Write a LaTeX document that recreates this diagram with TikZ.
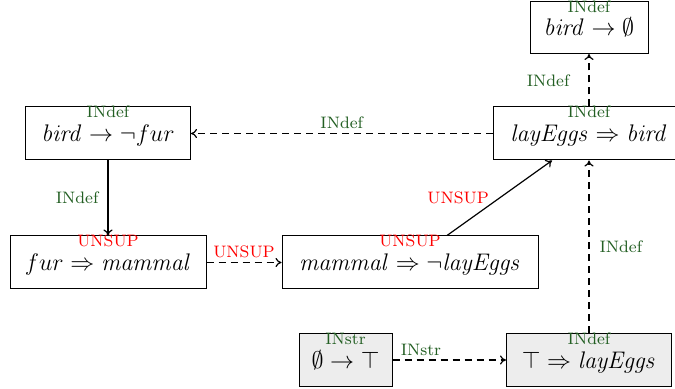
\documentclass[tikz,border=0pt]{standalone}
\usepackage{amssymb}
\usetikzlibrary{arrows.meta}
\definecolor{labgreen}{RGB}{35,95,35}
\definecolor{labred}{RGB}{255,0,0}
\begin{document}
\begin{tikzpicture}[x=0.5pt,y=-0.5pt,
  box/.style={draw, line width=0.5pt, minimum height=26.5pt, inner xsep=1.5pt, text height=11.5pt, text depth=3pt, font=\fontsize{13}{15}\selectfont},
  grey/.style={fill=black!7},
  labfont/.style={font=\fontsize{8.3}{9}\selectfont},
  ndlab/.style={labfont, inner sep=0pt, anchor=center, yshift=-2.8pt},
  gl/.style={text=labgreen},
  rl/.style={text=labred},
  edge/.style={line width=0.6pt, -{To[length=3pt,width=4.5pt]}},
  dedge/.style={edge, dash pattern=on 3.5pt off 2.5pt},
  elab/.style={labfont, inner sep=2pt}
]
\useasboundingbox (0,0) rectangle (675,389);
\node[box, minimum width=59pt, minimum height=26pt, label={[ndlab,gl]north:INdef}] (b0) at (589,27.5) {$\mathit{bird}\rightarrow\emptyset$};
\node[box, minimum width=96pt, label={[ndlab,gl]north:INdef}] (lay) at (589,133.5) {$\mathit{layEggs}\Rightarrow\mathit{bird}$};
\node[box, minimum width=82.5pt, label={[ndlab,gl]north:INdef}] (bf) at (108,133.5) {$\mathit{bird}\rightarrow\neg fur$};
\node[box, minimum width=98pt, label={[ndlab,rl]north:UNSUP}] (fm) at (108,262.5) {$fur\Rightarrow\mathit{mammal}$};
\node[box, minimum width=128pt, label={[ndlab,rl]north:UNSUP}] (mm) at (410,262.5) {$\mathit{mammal}\Rightarrow\neg\mathit{layEggs}$};
\node[box, grey, minimum width=46.5pt, label={[ndlab,gl]north:INstr}] (et) at (345.5,360) {$\emptyset\rightarrow\top$};
\node[box, grey, minimum width=82.5pt, label={[ndlab,gl]north:INdef}] (tl) at (589,360) {$\top\Rightarrow\mathit{layEggs}$};

\draw[dedge] (lay.north) -- (b0.south) node[midway, left, elab, xshift=-7.5pt, text=labgreen] {INdef};
\draw[dedge] (lay.west) -- (bf.east) node[midway, above, elab, text=labgreen] {INdef};
\draw[edge] (bf.south) -- (fm.north) node[midway, left, elab, xshift=-2.5pt, text=labgreen] {INdef};
\draw[dedge] (fm.east) -- (mm.west) node[midway, above, elab, text=labred] {UNSUP};
\draw[edge] ([xshift=18.5pt]mm.north) -- ([xshift=-18.5pt]lay.south) node[midway, left, elab, xshift=-3pt, text=labred] {UNSUP};
\draw[dedge] (tl.north) -- (lay.south) node[midway, right, elab, xshift=3pt, text=labgreen] {INdef};
\draw[dedge] (et.east) -- (tl.west) node[pos=0.25, above, elab, text=labgreen] {INstr};
\end{tikzpicture}
\end{document}
